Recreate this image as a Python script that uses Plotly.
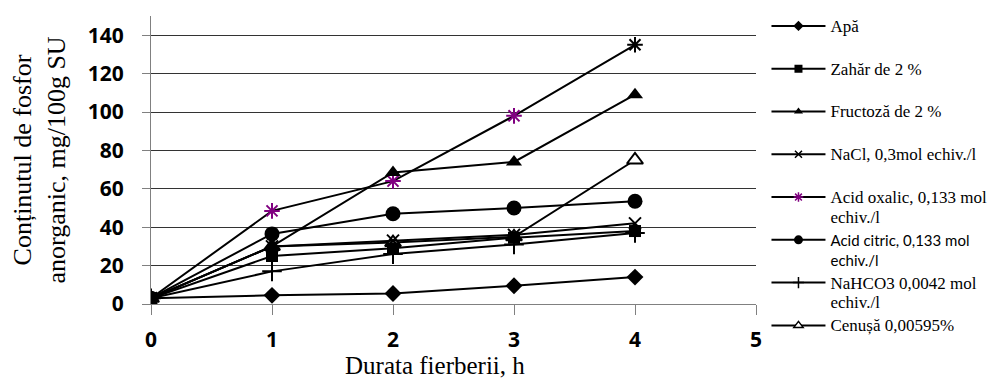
import plotly.graph_objects as go

x_hours = [0, 1, 2, 3, 4]
apa = [3, 4.5, 5.5, 9.5, 14]
zahar = [3, 25, 29, 34.5, 38]
fructoza = [3, 30, 68.5, 74, 109]
nacl = [3, 30, 33, 36, 42]
acid_oxalic = [3, 48.5, 64, 98, 135]
acid_citric = [3, 36.5, 47, 50, 53.5]
nahco3 = [3, 17, 26, 31, 37]
cenusa = [3, 30, 32, 35, 75]

x_ticks = [0, 1, 2, 3, 4, 5]
y_ticks = [0, 20, 40, 60, 80, 100, 120, 140]

PURPLE = "#800080"
SERIF = "Liberation Serif"
SANS_B = "Open Sans"


def leg(lines, size=17, family=None):
    fam = f"font-family:{family};" if family else ""
    return "<br>".join(
        f'<span style="{fam}font-size:{size}px">{ln}</span>' for ln in lines
    )


fig = go.Figure()

# series: (values, symbol, plot size, legend rank, legend label, fill, line width, marker colour)
series = [
    (cenusa, "triangle-up", 14, 8, leg(["Cenușă 0,00595%", "&nbsp;"]), "white", 2, "black"),
    (acid_oxalic, "asterisk-open", 13, 5, leg(["Acid oxalic, 0,133 mol", "echiv./l"]),
     [PURPLE, PURPLE, PURPLE, PURPLE, "black"], 2, [PURPLE, PURPLE, PURPLE, PURPLE, "black"]),
    (nacl, "x-thin-open", 12, 4, leg(["NaCl, 0,3mol echiv./l", "&nbsp;"]), "black", 2, "black"),
    (fructoza, "triangle-up", 14, 3, leg(["Fructoză de 2 %", "&nbsp;"]), "black", 0, "black"),
    (nahco3, "cross-thin-open", 14, 7, leg(["NaHCO3 0,0042 mol", "echiv./l"]), "black", 2, "black"),
    (acid_citric, "circle", 15, 6, leg(["Acid citric, 0,133 mol", "echiv./l"], size=15, family="Lato"),
     "black", 0, "black"),
    (apa, "diamond", 13, 1, leg(["Apă", "&nbsp;"]), "black", 0, "black"),
    (zahar, "square", 12, 2, leg(["Zahăr de 2 %", "&nbsp;"]), "black", 0, "black"),
]

legend_sizes = {"triangle-up": 8, "asterisk-open": 8, "x-thin-open": 7, "cross-thin-open": 8,
                "circle": 9, "diamond": 8, "square": 8}

for vals, sym, size, rank, label, fill, lw, mcol in series:
    fig.add_trace(go.Scatter(
        x=x_hours, y=vals, mode="lines+markers", showlegend=False,
        line=dict(color="black", width=2),
        marker=dict(symbol=sym, size=size, color=fill, line=dict(color=mcol, width=lw)),
    ))
    lf = fill[0] if isinstance(fill, list) else fill
    lc = mcol[0] if isinstance(mcol, list) else mcol
    fig.add_trace(go.Scatter(
        x=[None], y=[None], mode="lines+markers", name=label, legendrank=rank,
        line=dict(color="black", width=2),
        marker=dict(symbol=sym, size=legend_sizes[sym], color=lf,
                    line=dict(color=lc, width=min(lw, 1.5) if lw else 0)),
    ))

fig.add_annotation(
    text="Durata fierberii, h", xref="paper", yref="paper",
    x=(435 - 151) / 605, y=-(365 - 304) / 288, xanchor="center", yanchor="middle",
    showarrow=False, font=dict(family=SERIF, size=25, color="black"),
)

fig.update_layout(
    width=989, height=379,
    margin=dict(l=151, r=233, t=16, b=75),
    paper_bgcolor="white", plot_bgcolor="white",
    showlegend=True,
    legend=dict(
        xref="container", yref="container",
        x=0.775, y=0.975, xanchor="left", yanchor="top",
        valign="top", itemwidth=54, maxheight=1.0,
        font=dict(family=SERIF, size=15.3, color="black"),
        bgcolor="rgba(0,0,0,0)", tracegroupgap=0,
    ),
    xaxis=dict(
        range=[0, 5], tickvals=x_ticks, ticktext=[str(v) for v in x_ticks],
        showgrid=False, zeroline=False, automargin=False,
        showline=True, linecolor="#808080", linewidth=1,
        ticks="outside", ticklen=10, tickcolor="#808080",
        ticklabelstandoff=7,
        tickfont=dict(family=SANS_B, size=21, color="black", weight="bold"),
    ),
    yaxis=dict(
        range=[0, 150], tickvals=y_ticks, ticktext=[str(v) for v in y_ticks],
        showgrid=True, gridcolor="#333333", gridwidth=1,
        zeroline=False, automargin=False,
        showline=True, linecolor="#808080", linewidth=1,
        ticks="outside", ticklen=8, tickcolor="#808080",
        ticklabelstandoff=14,
        tickfont=dict(family=SANS_B, size=21, color="black", weight="bold"),
        title=dict(text="Conținutul de fosfor<br>anorganic, mg/100g SU",
                   font=dict(family=SERIF, size=26, color="black"), standoff=14),
    ),
)

fig.write_html("out.html")
